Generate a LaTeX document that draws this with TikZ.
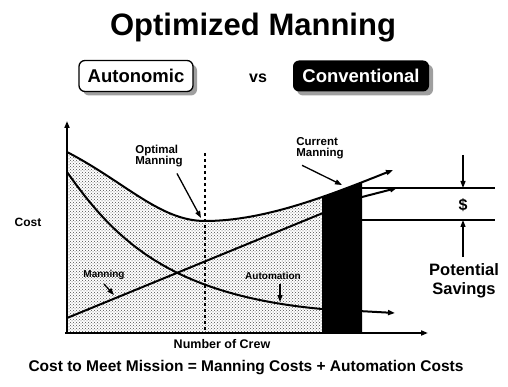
\documentclass[tikz,border=0pt]{standalone}
\usepackage{fontspec}
\setmainfont{Liberation Sans}
\usetikzlibrary{arrows.meta,patterns,shadows}

\tikzset{
  tip/.style={-{Triangle[length=7pt,width=5pt]}},
  small/.style={font=\bfseries\fontsize{10}{10.5}\selectfont, align=left},
  callout/.style={font=\bfseries\fontsize{11.5}{11.5}\selectfont, align=left},
  chooser/.style={rounded corners=6pt, minimum width=114pt, minimum height=31pt,
    inner sep=2pt, font=\bfseries\fontsize{18.5}{20}\selectfont,
    drop shadow={shadow xshift=4pt, shadow yshift=-4pt, fill=black!75}}
}

\begin{document}
\begin{tikzpicture}[x=1pt, y=-1pt, line width=2pt, font=\bfseries]
  \useasboundingbox (0,0) rectangle (508,387);
  % heading and choice boxes
  \node (title) at (253,28) {\fontsize{31}{34}\selectfont Optimized Manning};
  \node[chooser, draw, line width=1.3pt, fill=white] (auto) at (136,76) {Autonomic};
  \node[font=\bfseries\fontsize{16}{18}\selectfont] (vs) at (258,78) {vs};
  \node[chooser, fill=black, text=white, minimum width=136pt] (conv) at (361,76) {Conventional};

  % stipple under total cost, black bar at current manning
  \begin{scope}
    \clip (67,100) rectangle (322,332);
    \fill[pattern=crosshatch dots, pattern color=black!70] (67,152) .. controls (125,182) and (160,221) .. (205,221)
      .. controls (265,221) and (330,195) .. (393,170) -- (393,332) -- (67,332) -- cycle;
  \end{scope}
  \begin{scope}
    \clip (322,100) rectangle (362,332);
    \fill (67,152) .. controls (125,182) and (160,221) .. (205,221)
      .. controls (265,221) and (330,195) .. (393,170) -- (393,332) -- (67,332) -- cycle;
  \end{scope}

  % axes
  \draw[tip] (67,333) -- (67,121);
  \draw[tip] (65,333) -- (428,333);
  \draw[dashed, line width=1.3pt] (205,153) -- (205,333);

  % cost curves
  \draw[tip] (67,152) .. controls (125,182) and (160,221) .. (205,221)
    .. controls (265,221) and (330,195) .. (393,170);
  \draw[tip] (67,172) .. controls (115,240) and (170,295) .. (322,309) -- (395,313);
  \draw[tip] (67,318) -- (362,197) -- (397,188);

  % labels on the chart
  \node[font=\bfseries\fontsize{12}{13}\selectfont] (cost) at (28,222) {Cost};
  \node[font=\bfseries\fontsize{12.5}{13}\selectfont] (crew) at (222,344) {Number of Crew};
  \node[callout] (optimal) at (159,156) {Optimal\\Manning};
  \draw[tip, line width=1.3pt] (optimal.south east) ++(-10,2) -- (201,218);
  \node[callout] (current) at (320,148) {Current\\Manning};
  \draw[tip, line width=1.3pt] (current.south west) ++(10,2) -- (342,185);
  \node[small] (manning) at (104,275) {Manning};
  \draw[tip, line width=1.3pt] (manning.south) ++(0,0) -- (114,295);
  \node[small] (automation) at (273,276) {Automation};
  \draw[tip, line width=1.3pt] (automation.south) ++(7,0) -- (280,302);

  % savings bracket
  \draw[line width=1.5pt] (362,188) -- (495,188);
  \draw[line width=1.5pt] (362,220) -- (495,220);
  \coordinate (upper) at (463,155);
  \coordinate (lower) at (463,257);
  \draw[tip, line width=1.2pt] (upper) -- (463,188);
  \draw[tip, line width=1.2pt] (lower) -- (463,220);
  \node[font=\bfseries\fontsize{16}{18}\selectfont] (dollar) at (463,205) {\$};
  \node[font=\bfseries\fontsize{16.5}{19}\selectfont, align=center] (savings) at (464,281) {Potential\\Savings};

  % equation
  \node[font=\bfseries\fontsize{15.5}{17}\selectfont] (equation) at (246,368)
    {Cost to Meet Mission = Manning Costs + Automation Costs};
\end{tikzpicture}
\end{document}
